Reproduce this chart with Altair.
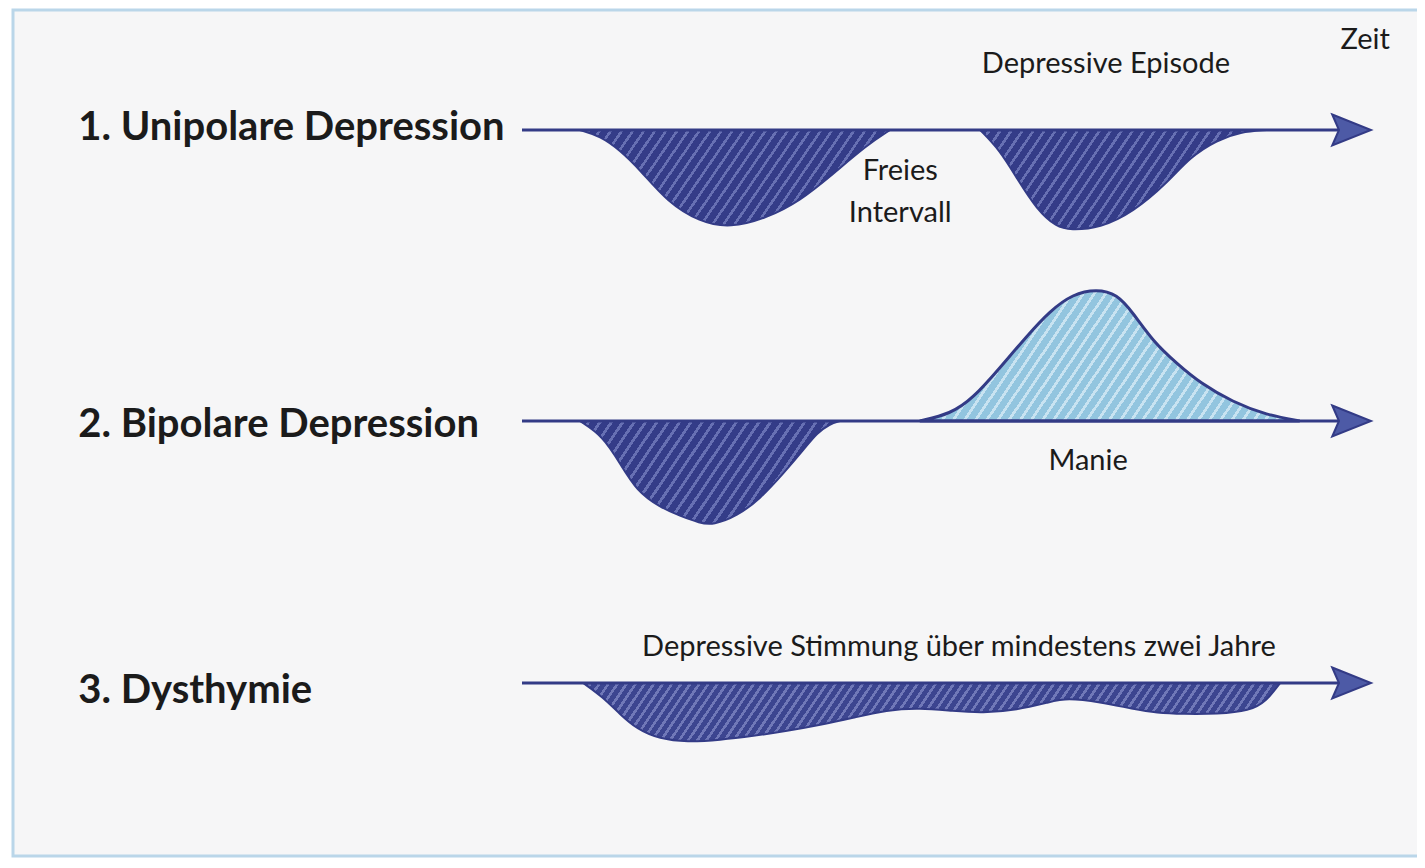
import altair as alt
import pandas as pd

# ---------------- data ----------------
# time runs 0..100 along each arrow, mood: below 0 = depressive, above 0 = manic
uni_ep1_t = [6.8, 9.2, 11.5, 13.9, 17.1, 20.9, 24.5, 28.8, 32.7, 36.6, 40.6, 43.3]
uni_ep1_mood = [0, -6, -20, -40, -72, -92, -98, -88, -71, -44, -15, 0]

uni_ep2_t = [53.9, 56.2, 58.2, 60.6, 62.9, 64.5, 68.0, 71.9, 75.9, 78.6, 81.8, 84.5, 87.6]
uni_ep2_mood = [0, -20, -48, -80, -97, -100, -98, -82, -53, -27, -10, -2, 0]

bip_dep_t = [6.8, 9.5, 11.5, 13.5, 16.2, 18.6, 20.9, 22.5, 25.3, 28.0, 30.7, 33.1, 34.7, 36.2, 37.4]
bip_dep_mood = [0, -15, -42, -70, -86, -95, -102, -104, -95, -78, -53, -29, -12, -3, 0]

bip_man_t = [46.8, 50.4, 53.1, 56.2, 59.4, 62.1, 64.8, 67.6, 70.0, 71.9, 74.2, 77.1, 79.8, 83.6, 87.6, 91.5]
bip_man_mood = [0, 7, 23, 53, 85, 110, 127, 132, 127, 108, 80, 57, 38, 19, 6, 0]

dys_t = [7.2, 9.5, 11.5, 13.5, 16.2, 19.4, 23.3, 27.2, 31.2, 35.1, 38.9, 42.9, 46.8,
         50.7, 54.2, 58.2, 62.1, 64.1, 68.0, 71.9, 74.7, 77.8, 81.8, 85.6, 87.6, 89.2]
dys_mood = [0, -14, -31, -46, -56, -59, -57, -53, -48, -42, -35, -27, -25,
            -28, -30, -27, -19, -15, -19, -26, -30, -31, -31, -28, -18, 0]

row_labels = ["1. Unipolare Depression", "2. Bipolare Depression", "3. Dysthymie"]
row_base = [0, -291, -553]          # level of each row's time line

notes_text = ["Zeit", "Depressive Episode", "Freies", "Intervall", "Manie",
              "Depressive Stimmung über mindestens zwei Jahre"]
notes_t = [99.2, 68.7, 44.5, 44.5, 66.6, 51.4]
notes_level = [81, 57, -50, -92, -340, -526]

label_t = -52.2
label_level = [-9.5, -307, -573]

# ---------------- tables ----------------
def episode(ts, moods, base):
    return pd.DataFrame({"t": ts, "level": [base + m for m in moods], "base": base})

lines = pd.DataFrame({"t0": [0, 0, 0], "t1": [97, 97, 97], "level": row_base})
heads = pd.DataFrame({"t": [97.6, 97.6, 97.6], "level": row_base})
labels = pd.DataFrame({"text": row_labels, "t": label_t, "level": label_level})
notes = pd.DataFrame({"text": notes_text, "t": notes_t, "level": notes_level})

# ---------------- scales ----------------
W, H = 1409, 850
px_per_t = 8.5
tmin = -(522 - 8) / px_per_t
tmax = tmin + W / px_per_t
xs = alt.Scale(domain=[tmin, tmax], nice=False, zero=False)
ys = alt.Scale(domain=[122 - H, 122], nice=False, zero=False)

X = lambda f: alt.X(f, type="quantitative", scale=xs, axis=None)
Y = lambda f: alt.Y(f, type="quantitative", scale=ys, axis=None)

NAVY = "#333b86"
TXT = "#1b1b1b"


def hatch(ts, moods, dark, light, period=10.0, light_frac=0.3, slope=1.5):
    """diagonal marker-stroke look as a striped linear gradient (style only)"""
    bw = (max(ts) - min(ts)) * px_per_t
    bh = max(abs(m) for m in moods)
    r = bh / (slope * bw)
    k = (1 + r) / (1 + r * r)
    n = max(1, int(bw * (1 + r) / period))
    stops = []
    for i in range(n):
        a = i / n
        b = (i + 1 - light_frac) / n
        c = (i + 1) / n
        stops += [alt.GradientStop(color=dark, offset=a),
                  alt.GradientStop(color=dark, offset=b),
                  alt.GradientStop(color=light, offset=b),
                  alt.GradientStop(color=light, offset=c)]
    return alt.LinearGradient(gradient="linear", stops=stops,
                              x1=0, y1=0, x2=k, y2=k * r)


def area_layer(ts, moods, base, dark, light, stroke_w, period, light_frac):
    return alt.Chart(episode(ts, moods, base)).mark_area(
        interpolate="basis", fill=hatch(ts, moods, dark, light, period, light_frac),
        stroke=NAVY, strokeWidth=stroke_w, opacity=1
    ).encode(x=X("t"), y=Y("level"), y2="base")


DARK, LIGHT = "#343c88", "#6770b3"
uni1 = area_layer(uni_ep1_t, uni_ep1_mood, row_base[0], DARK, LIGHT, 2, 11, 0.28)
uni2 = area_layer(uni_ep2_t, uni_ep2_mood, row_base[0], DARK, LIGHT, 2, 11, 0.28)
bipd = area_layer(bip_dep_t, bip_dep_mood, row_base[1], DARK, LIGHT, 2, 11, 0.3)
dysl = area_layer(dys_t, dys_mood, row_base[2], "#3c4590", "#7078b8", 2, 9, 0.35)
mani = area_layer(bip_man_t, bip_man_mood, row_base[1], "#92c5df", "#c8e3f1", 3, 11, 0.3)

frame_bg = alt.Chart(pd.DataFrame({"a": [0]})).mark_rect(
    fill="#f6f6f7", stroke="#bad6e9", strokeWidth=3
).encode(x=alt.value(5), x2=alt.value(1440), y=alt.value(2), y2=alt.value(848))

line_layer = alt.Chart(lines).mark_rule(color=NAVY, strokeWidth=3).encode(
    x=X("t0"), x2="t1", y=Y("level"))

head_layer = alt.Chart(heads).mark_point(
    shape="M-1,-0.8L1,0L-1,0.8L-0.65,0Z", size=1500, filled=True,
    fill="#4d5aa6", stroke=NAVY, strokeWidth=2, opacity=1
).encode(x=X("t"), y=Y("level"))

label_layer = alt.Chart(labels).mark_text(
    align="left", baseline="alphabetic", font="Lato", fontSize=40,
    fontWeight="bold", color=TXT
).encode(x=X("t"), y=Y("level"), text="text:N")

note_layer = alt.Chart(notes).mark_text(
    align="center", baseline="alphabetic", font="Lato", fontSize=29, color=TXT
).encode(x=X("t"), y=Y("level"), text="text:N")

chart = alt.layer(
    frame_bg, uni1, uni2, bipd, dysl, mani, line_layer, head_layer,
    label_layer, note_layer
).properties(
    width=W, height=H, autosize=alt.AutoSizeParams(type="none"), padding=0,
    background="white"
).configure_view(strokeWidth=0)

chart.save("out.html", embed_options={"renderer": "svg", "actions": False})
